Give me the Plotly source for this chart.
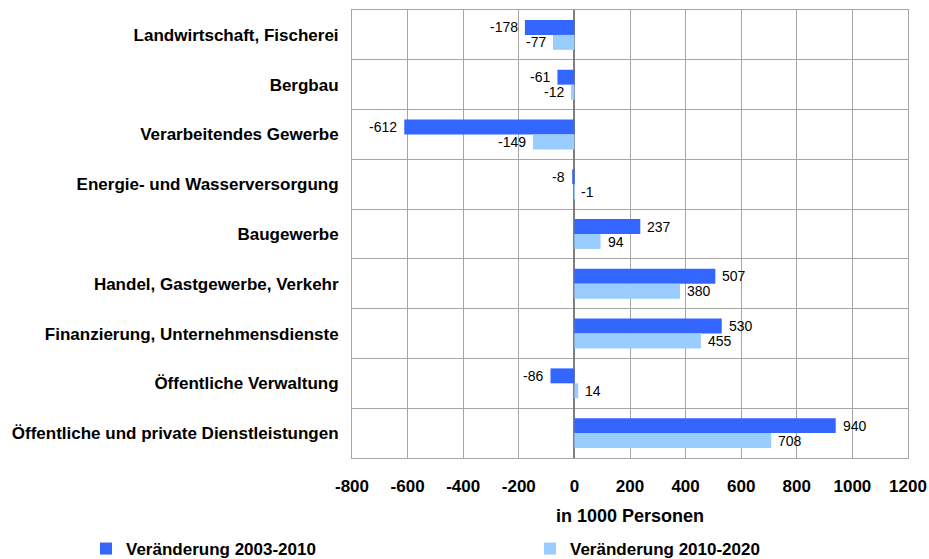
import plotly.graph_objects as go

categories = [
    "Landwirtschaft, Fischerei",
    "Bergbau",
    "Verarbeitendes Gewerbe",
    "Energie- und Wasserversorgung",
    "Baugewerbe",
    "Handel, Gastgewerbe, Verkehr",
    "Finanzierung, Unternehmensdienste",
    "Öffentliche Verwaltung",
    "Öffentliche und private Dienstleistungen",
]
change_2003_2010 = [-178, -61, -612, -8, 237, 507, 530, -86, 940]
change_2010_2020 = [-77, -12, -149, -1, 94, 380, 455, 14, 708]
series_names = ["Veränderung 2003-2010", "Veränderung 2010-2020"]
x_ticks = [-800, -600, -400, -200, 0, 200, 400, 600, 800, 1000, 1200]

FONT = "Liberation Sans, Arial, sans-serif"
colors = ["#3366FF", "#99CCFF"]

W, H = 929, 559
ML, MT, MR, MB = 352, 10, 21, 101
plot_h = H - MT - MB

fig = go.Figure()
for i, (name, vals, col) in enumerate(zip(series_names, [change_2003_2010, change_2010_2020], colors)):
    fig.add_trace(go.Bar(
        y=categories, x=vals, name=name, orientation="h",
        marker=dict(color=col, line=dict(width=0)),
        textposition="none",
        legend="legend" if i == 0 else "legend2",
    ))

annotations = []
for k, vals in enumerate([change_2003_2010, change_2010_2020]):
    yshift = 7.5 if k == 0 else -7.5
    for cat, v in zip(categories, vals):
        neg = v < 0 and abs(v) > 5
        annotations.append(dict(
            x=v, y=cat, xref="x", yref="y", text=str(v), showarrow=False,
            xanchor="right" if neg else "left", xshift=-5 if neg else 5,
            yshift=yshift, font=dict(family=FONT, size=14, color="#000000"),
        ))

annotations.append(dict(
    x=0.5, y=-(516 - (H - MB)) / plot_h, xref="paper", yref="paper",
    text="in 1000 Personen", showarrow=False, yanchor="middle",
    font=dict(family=FONT, size=18, color="#000000", weight="bold"),
))

legend_font = dict(family=FONT, size=17, color="#000000", weight="bold")
leg_y = (H - 549) / H

fig.update_layout(
    width=W, height=H, autosize=False,
    margin=dict(l=ML, r=MR, t=MT, b=MB, autoexpand=False),
    plot_bgcolor="white", paper_bgcolor="white",
    barmode="group", bargap=0.4, bargroupgap=0,
    showlegend=True,
    legend=dict(
        orientation="h", xref="container", yref="container",
        x=86 / W, y=leg_y, xanchor="left", yanchor="middle",
        font=legend_font, itemwidth=30, bgcolor="rgba(0,0,0,0)",
    ),
    legend2=dict(
        orientation="h", xref="container", yref="container",
        x=530 / W, y=leg_y, xanchor="left", yanchor="middle",
        font=legend_font, itemwidth=30, bgcolor="rgba(0,0,0,0)",
    ),
    xaxis=dict(
        range=[-800, 1200], tickvals=x_ticks, ticktext=[str(t) for t in x_ticks],
        showgrid=True, gridcolor="#A6A6A6", gridwidth=1,
        zeroline=True, zerolinecolor="#7F7F7F", zerolinewidth=2,
        showline=True, linecolor="#A6A6A6", linewidth=1, mirror=True,
        ticks="", ticklabelstandoff=13, automargin=False,
        tickfont=dict(family=FONT, size=17, color="#000000", weight="bold"),
    ),
    yaxis=dict(
        autorange="reversed", type="category",
        showgrid=True, gridcolor="#A6A6A6", gridwidth=1, tickson="boundaries",
        showline=True, linecolor="#A6A6A6", linewidth=1, mirror=True,
        ticks="", ticklabelstandoff=9, automargin=False,
        tickfont=dict(family=FONT, size=17, color="#000000", weight="bold"),
    ),
    annotations=annotations,
)

fig.write_html(
    "out.html",
    config={"responsive": False, "displayModeBar": False},
    post_script="document.body.style.margin='0';document.body.style.overflow='hidden';",
)
